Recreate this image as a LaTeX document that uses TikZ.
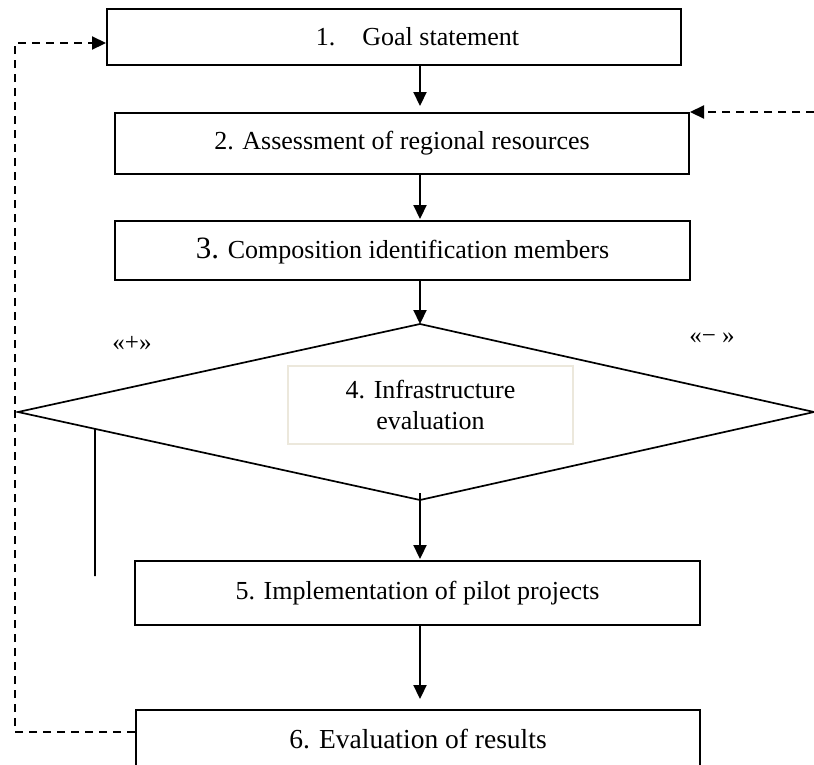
\documentclass[tikz,border=0pt]{standalone}
\usepackage{fontspec}
\setmainfont{Liberation Serif}
\usetikzlibrary{arrows.meta,calc}
\definecolor{beige}{HTML}{ECE8DC}
\begin{document}
\begin{tikzpicture}[x=1pt,y=-1pt,
  box/.style={draw,line width=2pt,inner sep=0pt,font=\fontsize{26}{30}\selectfont},
  inbox/.style={draw=beige,line width=1.4pt,inner sep=0pt,align=center,font=\fontsize{26}{31}\selectfont},
  arr/.style={line width=2.2pt,-{Triangle[length=14pt,width=13pt]}},
  fb/.style={line width=2.2pt,dash pattern=on 8pt off 6pt},
  fbarr/.style={fb,-{Triangle[length=14pt,width=13pt]}},
  dia/.style={line width=1.7pt,line join=miter},
  sign/.style={inner sep=0pt,font=\fontsize{25}{27}\selectfont}
]
\useasboundingbox (0,0) rectangle (814,764);

% boxes
\node[box,minimum width=574pt,minimum height=56pt] (b1) at (394,37) {\hspace*{47pt}1.\hspace{27pt}Goal statement};
\node[box,minimum width=574pt,minimum height=61pt] (b2) at (402,143.5) {2. Assessment of regional resources};
\node[box,minimum width=575pt,minimum height=59pt] (b3) at (402.5,250.5) {{\fontsize{31}{31}\selectfont 3.} Composition identification members};
\node[box,minimum width=565pt,minimum height=64pt] (b5) at (417.5,593) {5. Implementation of pilot projects};
\node[box,minimum width=564pt,minimum height=58pt,font=\fontsize{27.5}{30}\selectfont] (b6) at (418,739) {6. Evaluation of results};

% diamond
\coordinate (dT) at (420,324);
\coordinate (dR) at (814,412);
\coordinate (dB) at (420,500);
\coordinate (dL) at (18,412);
\draw[dia] (dT) -- (dR) -- (dB) -- (dL) -- cycle;
\node[inbox,minimum width=285pt,minimum height=78pt] (b4) at (430.5,405) {4. Infrastructure\\evaluation};

% signs
\node[sign] (plus) at (132,343) {«+»};
\node[sign] (minus) at (712,338) {«− »};

% main arrows
\draw[arr] (b1.south -| dT) -- ($(b2.north -| dT)+(0,6pt)$);
\draw[arr] (b2.south -| dT) -- ($(b3.north -| dT)+(0,1pt)$);
\draw[arr] (b3.south -| dT) -- (dT);
\draw[arr] ($(dB)+(0,7pt)$) -- ($(b5.north -| dB)+(0,1pt)$);
\draw[arr] (b5.south -| dT) -- ($(b6.north -| dT)+(0,10pt)$);

% plain vertical line from diamond edge
\coordinate (vtop) at ($(dL)!0.1915!(dB)$);
\coordinate (vbot) at (95,576);
\draw[line width=1.7pt] (vtop) -- (vbot);

% feedback lines
\coordinate (fbTop) at (15,43);
\draw[fbarr] ($(b6.west)+(0,7pt)$) -| (fbTop) -- ($(b1.west)+(0,-6pt)$);
\coordinate (rin) at (814,113);
\draw[fbarr] (b2.north east -| rin) -- (b2.north east);
\end{tikzpicture}
\end{document}
